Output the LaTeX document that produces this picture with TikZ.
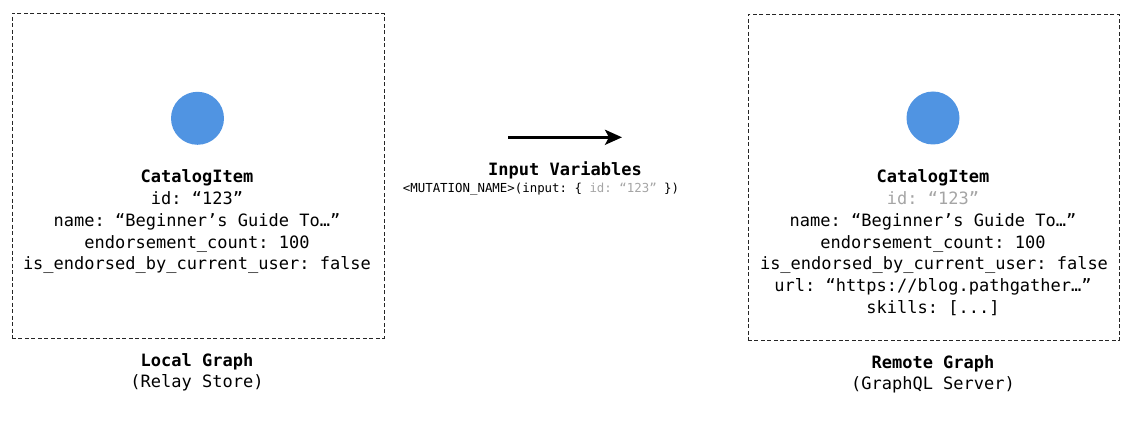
\documentclass[tikz,border=0pt]{standalone}
\usepackage{fontspec}
\setmonofont{DejaVu Sans Mono}
\usetikzlibrary{arrows.meta}
\definecolor{dotblue}{RGB}{80,148,226}
\definecolor{fadegray}{RGB}{165,165,165}
\tikzset{
  box/.style={draw=black!85, line width=0.9pt, dash pattern=on 4pt off 2.5pt},
  dot/.style={circle, fill=dotblue, minimum size=53pt, inner sep=0pt},
  txt/.style={anchor=base, inner sep=0pt, font=\fontsize{17}{20}\ttfamily},
  btxt/.style={txt, font=\fontsize{17}{20}\ttfamily\bfseries},
  smalltxt/.style={anchor=base, inner sep=0pt, font=\fontsize{12.4}{15}\ttfamily},
  flow/.style={line width=3pt, -{Stealth[length=17pt,width=15pt,inset=4pt]}}
}
\begin{document}
\begin{tikzpicture}[x=1pt,y=-1pt]
\useasboundingbox (0,0) rectangle (1131,430);
% left box
\node[box, minimum width=372pt, minimum height=325pt, anchor=north west, inner sep=0pt] (lbox) at (11.5,12.8) {};
\node[dot] (ldot) at (197.5,118.3) {};
\node[btxt] (lt1) at (197,183) {CatalogItem};
\node[txt] (lt2) at (197,204.7) {id: “123”};
\node[txt] (lt3) at (197,226.4) {name: “Beginner’s Guide To…”};
\node[txt] (lt4) at (197,248.1) {endorsement\_count: 100};
\node[txt] (lt5) at (197,269.8) {is\_endorsed\_by\_current\_user: false};
\node[btxt] (llab1) at (197,366) {Local Graph};
\node[txt] (llab2) at (197,387.5) {(Relay Store)};
% right box
\node[box, minimum width=371.5pt, minimum height=325.5pt, anchor=north west, inner sep=0pt] (rbox) at (747.5,14.5) {};
\node[dot] (rdot) at (933,118) {};
\node[btxt] (rt1) at (933,183) {CatalogItem};
\node[txt, text=fadegray] (rt2) at (933,204.7) {id: “123”};
\node[txt] (rt3) at (933,226.4) {name: “Beginner’s Guide To…”};
\node[txt] (rt4) at (933,248.1) {endorsement\_count: 100};
\node[txt] (rt5) at (934,269.8) {is\_endorsed\_by\_current\_user: false};
\node[txt] (rt6) at (933,291.5) {url: “https://blog.pathgather…”};
\node[txt] (rt7) at (933,313.2) {skills: [...]};
\node[btxt] (rlab1) at (933,368) {Remote Graph};
\node[txt] (rlab2) at (933,389.5) {(GraphQL Server)};
% middle
\coordinate (afrom) at (508,137.3);
\coordinate (ato) at (622,137.3);
\draw[flow] (afrom) -- (ato);
\node[btxt] (inlab) at (565,176) {Input Variables};
\node[smalltxt] (mut) at (541,193) {<MUTATION\_NAME>(input: \{ \textcolor{fadegray}{id: “123”} \})};
\end{tikzpicture}
\end{document}
